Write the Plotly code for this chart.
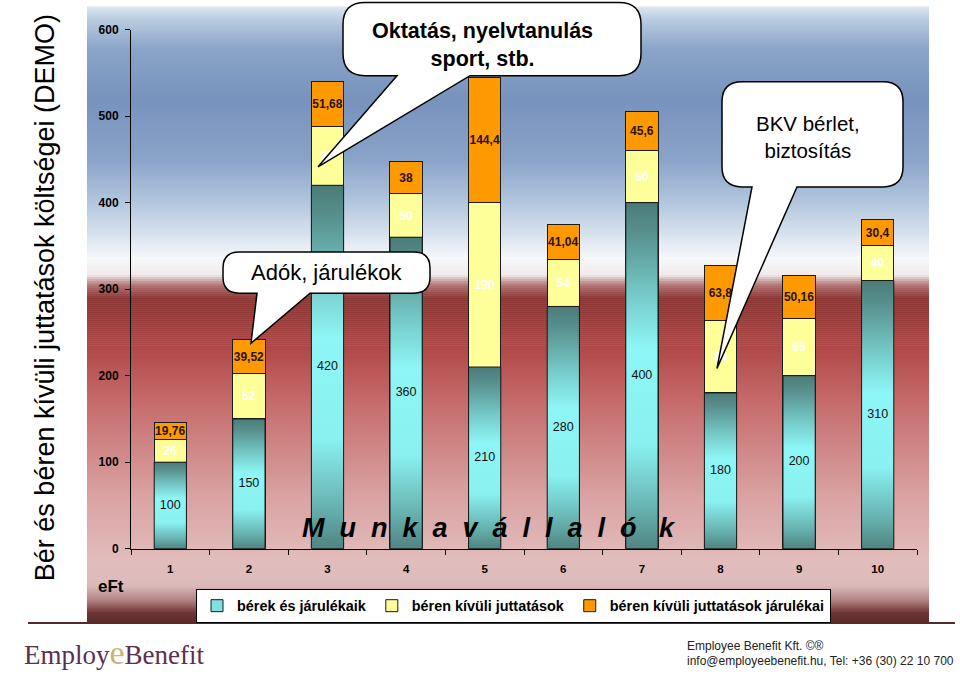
import numpy as np
import plotly.graph_objects as go

W, H = 960, 674

# ── data ──────────────────────────────────────────────────────────────────────
categories = [1, 2, 3, 4, 5, 6, 7, 8, 9, 10]
wages = [100, 150, 420, 360, 210, 280, 400, 180, 200, 310]
benefits = [26, 52, 68, 50, 190, 54, 60, 84, 66, 40]
benefit_tax = [19.76, 39.52, 51.68, 38, 144.4, 41.04, 45.6, 63.8, 50.16, 30.4]
y_ticks = [0, 100, 200, 300, 400, 500, 600]
series_names = ["bérek és járulékaik", "béren kívüli juttatások",
                "béren kívüli juttatások járulékai"]

FONT = "Arial, Liberation Sans, sans-serif"
NARROW = "Liberation Sans Narrow, Arial Narrow, Liberation Sans, sans-serif"
BAR_W = 0.41
CYAN, YELLOW, ORANGE = "#7fe0e0", "#ffff99", "#ff9900"

WAGE_SCALE = [[0.0, "#4f8481"], [0.12, "#68b4b2"], [0.3, "#8af0f0"],
              [0.58, "#8ef6f6"], [0.74, "#74c8c6"], [0.9, "#5a9492"],
              [1.0, "#4b7b78"]]

# background bands (pixel row, colour) — decoration only
BG_STOPS = [(7, "#dfe8f0"), (20, "#b8cbe0"), (50, "#8aa4c8"), (100, "#7892bd"),
            (160, "#8aa3c8"), (200, "#b0c4dc"), (235, "#d8e2ee"), (258, "#f6f8fa"),
            (275, "#f2eaea"), (285, "#b07070"), (298, "#8a3634"), (315, "#943a38"),
            (350, "#b24a4a"), (400, "#c66a6a"), (450, "#d08888"), (500, "#dba4a4"),
            (560, "#e2bcbc"), (585, "#dcbaba"), (600, "#b08080"), (612, "#6e3434"),
            (621, "#5a2a2a")]

# the page comes out slightly squeezed vertically: screen_y = 7.5 + 0.977 * y
SQ_OFF, SQ_K = 7.5, 0.977


def px(x, y):
    return x / W, 1 - ((y - SQ_OFF) / SQ_K) / H


def fmt(v):
    return f"{v:g}".replace(".", ",")


def hex_rgb(c):
    return np.array([int(c[i:i + 2], 16) for i in (1, 3, 5)], dtype=float)


def bubble(x0, y0, x1, y1, r, bx0, bx1, tx, ty):
    pts = [("M", x0 + r, y0), ("L", x1 - r, y0), ("Q", x1, y0, x1, y0 + r),
           ("L", x1, y1 - r), ("Q", x1, y1, x1 - r, y1), ("L", bx1, y1),
           ("L", tx, ty), ("L", bx0, y1), ("L", x0 + r, y1),
           ("Q", x0, y1, x0, y1 - r), ("L", x0, y0 + r), ("Q", x0, y0, x0 + r, y0)]
    out = []
    for p in pts:
        cmd, coords = p[0], p[1:]
        xy = []
        for i in range(0, len(coords), 2):
            a, b = px(coords[i], coords[i + 1])
            xy.append(f"{a:.5f},{b:.5f}")
        out.append(cmd + " ".join(xy))
    return " ".join(out) + " Z"


fig = go.Figure()

# ── bars ──────────────────────────────────────────────────────────────────────
fig.add_trace(go.Bar(
    x=categories, y=wages, name=series_names[0], width=BAR_W,
    marker=dict(color=CYAN, line=dict(color="#1a1a1a", width=1)),
    hoverinfo="skip",
))
fig.add_trace(go.Bar(
    x=categories, y=benefits, name=series_names[1], width=BAR_W,
    marker=dict(color=YELLOW, line=dict(color="#1a1a1a", width=1)),
    text=[fmt(v) for v in benefits], textposition="inside", textangle=0,
    insidetextanchor="middle", constraintext="none",
    insidetextfont=dict(family=FONT, size=12, color="white", weight="bold"),
    hoverinfo="skip",
))
fig.add_trace(go.Bar(
    x=categories, y=benefit_tax, name=series_names[2], width=BAR_W,
    marker=dict(color=ORANGE, line=dict(color="#1a1a1a", width=1)),
    text=[fmt(v) for v in benefit_tax], textposition="inside", textangle=0,
    insidetextanchor="middle", constraintext="none",
    insidetextfont=dict(family=FONT, size=12, color="#2a1200", weight="bold"),
    hoverinfo="skip",
))

# gradient fill over each wage bar
for c, v in zip(categories, wages):
    fig.add_trace(go.Scatter(
        x=[c - BAR_W / 2, c + BAR_W / 2, c + BAR_W / 2, c - BAR_W / 2, c - BAR_W / 2],
        y=[0, 0, v, v, 0],
        mode="lines", fill="toself",
        fillgradient=dict(type="vertical", colorscale=WAGE_SCALE),
        line=dict(color="#1a1a1a", width=1),
        showlegend=False, hoverinfo="skip",
    ))

fig.add_trace(go.Scatter(
    x=categories, y=[v / 2 for v in wages], mode="text",
    text=[fmt(v) for v in wages],
    textfont=dict(family=FONT, size=12.5, color="#111"),
    showlegend=False, hoverinfo="skip",
))

# ── background gradient ───────────────────────────────────────────────────────
shapes = []
rows = np.array([s[0] for s in BG_STOPS], dtype=float)
cols = np.array([hex_rgb(s[1]) for s in BG_STOPS])
for y in range(7, 621, 2):
    rgb = [np.interp(y + 1, rows, cols[:, k]) for k in range(3)]
    xa, ya = px(87, y)
    xb, yb = px(929, y + 2.6)
    shapes.append(dict(type="rect", xref="paper", yref="paper", layer="below",
                       x0=xa, x1=xb, y0=yb, y1=ya, line=dict(width=0),
                       fillcolor="rgb({:.0f},{:.0f},{:.0f})".format(*rgb)))

# footer rule
fx0, fy = px(28, 622)
fx1, _ = px(955, 622)
shapes.append(dict(type="line", xref="paper", yref="paper", x0=fx0, x1=fx1,
                   y0=fy, y1=fy, line=dict(color="#5a2a2a", width=2)))

# callout bubbles
for args in [(343, 3, 641, 76, 22, 397, 470, 318, 167),
             (223, 252, 430, 293, 16, 257, 310, 251, 343),
             (722, 82, 903, 187, 20, 752, 797, 717, 368)]:
    shapes.append(dict(type="path", xref="paper", yref="paper", layer="above",
                       path=bubble(*args), fillcolor="white",
                       line=dict(color="black", width=1.5)))

# ── annotations ───────────────────────────────────────────────────────────────
def note(x, y, text, size, weight="normal", family=FONT, angle=0, xanchor="center",
         style="normal", color="black"):
    a, b = px(x, y)
    fig.add_annotation(x=a, y=b, xref="paper", yref="paper", text=text,
                       showarrow=False, textangle=angle, xanchor=xanchor,
                       yanchor="middle", align="center",
                       font=dict(family=family, size=size, color=color,
                                 weight=weight, style=style))


note(45, 298, "Bér és béren kívüli juttatások költségei (DEMO)", 27, angle=-90)
note(111, 586, "eFt", 17, weight="bold")
note(482, 45, "Oktatás, nyelvtanulás<br>sport, stb.", 21.5, weight="bold")
note(326, 272, "Adók, járulékok", 22)
note(808, 137, "BKV bérlet,<br>biztosítás", 20.5)
nb = "\u00a0\u00a0"
note(300, 527, nb.join("Munkavállaló") + nb + "\u00a0k", 27, weight="bold",
     style="italic", xanchor="left")
note(22, 652, "Employ<span style='color:#c9b57a;font-size:34px'>e</span>Benefit", 27,
     family="Liberation Serif, DejaVu Serif, serif", xanchor="left", color="#5c2f4f")
note(685, 645, "Employee Benefit Kft. ©®", 12, family=NARROW, xanchor="left",
     color="#222")
note(685, 660, "info@employeebenefit.hu, Tel: +36 (30) 22 10 700", 12, family=NARROW,
     xanchor="left", color="#222")

# ── layout ────────────────────────────────────────────────────────────────────
lx, ly = px(196, 588)
_, y_bot = px(0, 548)
_, y_top = px(0, 30)
fig.update_layout(
    width=W, height=H,
    margin=dict(l=0, r=0, t=0, b=0),
    paper_bgcolor="white",
    plot_bgcolor="rgba(0,0,0,0)",
    barmode="stack",
    shapes=shapes,
    font=dict(family=FONT, color="black"),
    legend=dict(orientation="h", x=lx, y=ly, xanchor="left", yanchor="top",
                traceorder="normal", bgcolor="white", bordercolor="black",
                borderwidth=1, font=dict(family=FONT, size=14.4, weight="bold"),
                itemwidth=30),
    xaxis=dict(domain=[131 / W, 917 / W], range=[0.5, 10.5],
               tickmode="array", tickvals=categories,
               ticktext=[str(c) for c in categories],
               ticks="", showgrid=False, zeroline=False,
               showline=True, linecolor="black", linewidth=1,
               tickfont=dict(family=FONT, size=11.5, weight="bold"),
               ticklabelstandoff=9,
               minor=dict(tick0=0.5, dtick=1, ticks="outside", ticklen=5,
                          tickcolor="black", showgrid=False)),
    yaxis=dict(domain=[y_bot, y_top], range=[0, 600],
               tickmode="array", tickvals=y_ticks,
               ticks="outside", ticklen=5, tickcolor="black",
               showgrid=False, zeroline=False,
               showline=True, linecolor="black", linewidth=1,
               tickfont=dict(family=FONT, size=12, weight="bold"),
               ticklabelstandoff=4),
)

fig.write_html("out.html", config={"displayModeBar": False},
               post_script="document.body.style.margin='0';"
                           "document.body.style.overflow='hidden';")
